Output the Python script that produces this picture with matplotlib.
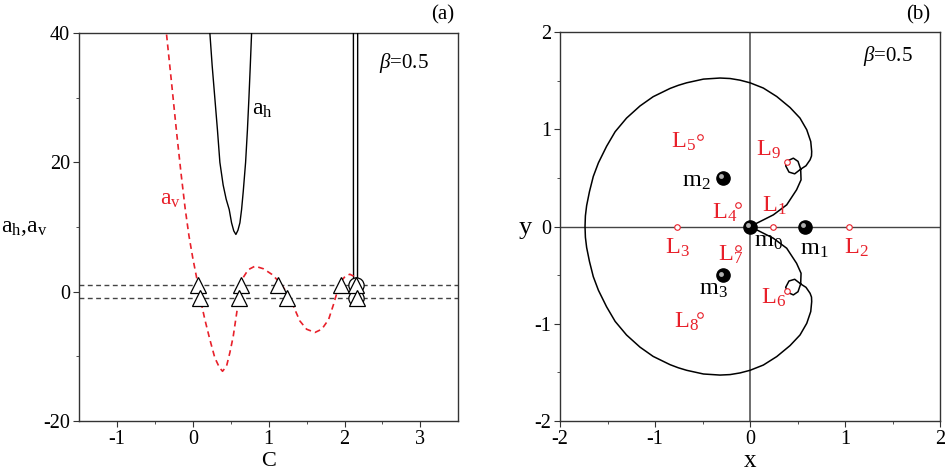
import numpy as np
import matplotlib.pyplot as plt
from matplotlib.transforms import offset_copy

plt.rcParams['font.family'] = ['Liberation Serif', 'DejaVu Serif']
plt.rcParams['mathtext.fontset'] = 'custom'
plt.rcParams['mathtext.rm'] = 'Liberation Serif'
plt.rcParams['mathtext.it'] = 'Liberation Serif:italic'
plt.rcParams['axes.unicode_minus'] = False

# ---- panel (a) data ----
ah_C = [0.215, 0.225, 0.255, 0.29, 0.325, 0.357, 0.40, 0.44, 0.48, 0.511, 0.54,
        0.568, 0.595, 0.621, 0.643, 0.665, 0.696, 0.72, 0.74, 0.758, 0.775, 0.78]
ah_y = [44, 40, 35, 30, 25, 20, 16.5, 14.3, 12.7, 10.65, 9.4,
        8.85, 9.5, 10.65, 12.7, 15.5, 20, 25, 30, 35, 40, 44]

ah2_C = [2.117, 2.117, 2.119, 2.13, 2.145, 2.16, 2.171, 2.173, 2.173]
ah2_y = [44, 10, 2, 0.5, 0.0, 0.5, 2, 10, 44]

av_C = [-0.36, -0.348, -0.28, -0.215, -0.155, -0.10, -0.05, 0.0, 0.05, 0.115,
        0.159, 0.225, 0.29, 0.35, 0.392, 0.445, 0.489, 0.533, 0.586, 0.62,
        0.665, 0.73, 0.82, 0.93, 1.04, 1.15, 1.24, 1.325, 1.41, 1.50, 1.61,
        1.70, 1.79, 1.855, 1.90, 1.94, 2.01, 2.07, 2.12, 2.14]
av_y = [41.3, 40, 32.3, 24.8, 18.3, 12.8, 8.6, 5.2, 2.2, -1.96,
        -4.3, -7.4, -10.2, -11.7, -12.3, -11.5, -9.4, -6.9, -2.7, -0.15,
        2.2, 3.4, 3.95, 3.55, 2.7, 1.4, -0.15, -2.2, -4.5, -5.8, -6.3,
        -5.8, -4.3, -1.96, -0.15, 1.4, 2.4, 2.7, 2.4, 1.6]

tri_up_C = [0.066, 0.64, 1.12, 1.95, 2.15]
tri_dn_C = [0.092, 0.61, 1.24, 2.16]
circ_C = [2.15, 2.15]
circ_y = [1, -1]
band = [1, -1]

# ---- panel (b) data (upper half, from m0 out to the left edge) ----
zvc_x = [0.0, 0.105, 0.245, 0.386, 0.49, 0.537, 0.533, 0.505, 0.456, 0.405, 0.375,
         0.41, 0.47, 0.533, 0.589, 0.632, 0.647, 0.649, 0.639, 0.597, 0.526,
         0.421, 0.281, 0.140, 0.0, -0.105, -0.21, -0.316, -0.49, -0.667, -0.755,
         -0.842, -1.02, -1.158, -1.30, -1.42, -1.51, -1.596, -1.65, -1.69, -1.72,
         -1.733, -1.737]
zvc_y = [0.0, 0.051, 0.12, 0.223, 0.378, 0.48, 0.59, 0.67, 0.703, 0.68, 0.625,
         0.56, 0.542, 0.59, 0.625, 0.686, 0.725, 0.772, 0.874, 0.995, 1.115,
         1.224, 1.337, 1.424, 1.478, 1.505, 1.522, 1.527, 1.516, 1.478, 1.452,
         1.42, 1.335, 1.24, 1.115, 0.975, 0.825, 0.655, 0.515, 0.36, 0.215,
         0.11, 0.0]

mass_x = [0.0, 0.577, -0.289, -0.289]
mass_y = [0.0, 0.0, 0.5, -0.5]
mass_lbl = ['m$_0$', 'm$_1$', 'm$_2$', 'm$_3$']
mass_lx = [0.19, 0.68, -0.56, -0.39]
mass_ly = [-0.15, -0.24, 0.46, -0.65]

L_x = [0.246, 1.046, -0.768, -0.13, -0.526, 0.39, -0.13, -0.526, 0.39]
L_y = [0.0, 0.0, 0.0, 0.223, 0.916, -0.662, -0.216, -0.906, 0.662]
L_lx = [0.26, 1.12, -0.77, -0.27, -0.70, 0.245, -0.21, -0.667, 0.19]
L_ly = [0.21, -0.22, -0.22, 0.14, 0.875, -0.737, -0.29, -0.978, 0.79]

fig = plt.figure(figsize=(9.46, 4.71), dpi=100)
ax1 = fig.add_axes([0.0835, 0.106, 0.401, 0.824])
ax2 = fig.add_axes([0.592, 0.106, 0.4017, 0.826])

red = '#e8202a'
spine_c = '#333333'

for ax in (ax1, ax2):
    for s in ax.spines.values():
        s.set_color(spine_c)
        s.set_linewidth(1.0)
    ax.tick_params(which='both', direction='out', top=False, right=False,
                   labelsize=14.5, colors=spine_c, labelcolor='black')
    ax.tick_params(which='major', length=4, pad=2.5)
    ax.tick_params(which='minor', length=2.5)

# panel (a)
ax1.set_xlim(-1.5, 3.5)
ax1.set_ylim(-20, 40)
ax1.set_xticks([-1, 0, 1, 2, 3])
ax1.set_xticks([-0.5, 0.5, 1.5, 2.5], minor=True)
ax1.set_yticks([-20, 0, 20, 40])
ax1.set_yticks([-10, 10, 30], minor=True)

for b in band:
    ax1.axhline(b, color='#444444', lw=1.0, ls=(0, (3.5, 2.5)), zorder=2)
ax1.plot(ah_C, ah_y, color='black', lw=1.0, zorder=3)
ax1.plot(ah2_C, ah2_y, color='black', lw=1.0, zorder=3)
ax1.plot(av_C, av_y, color=red, lw=1.2, ls=(0, (3.5, 2.5)), zorder=3)
ax1.plot(circ_C, circ_y, 'o', ms=11, mfc='white', mec='black', mew=0.9, zorder=4)
ax1.plot(tri_up_C, [band[0]] * len(tri_up_C), '^', ms=11, mfc='white', mec='black',
         mew=0.9, zorder=5)
ax1.plot(tri_dn_C, [band[1]] * len(tri_dn_C), '^', ms=11, mfc='white', mec='black',
         mew=0.9, zorder=5)

ax1.text(0.92, 28.2, 'a$_\\mathrm{h}$', fontsize=17, ha='center', va='center')
ax1.text(-0.30, 14.3, 'a$_\\mathrm{v}$', fontsize=17, ha='center', va='center', color=red)
ax1.text(2.78, 35.4, '$\\mathit{\\beta}$=0.5', fontsize=15, ha='center', va='center')

fig.text(0.026, 0.516, 'a$_\\mathrm{h}$,a$_\\mathrm{v}$', fontsize=17, ha='center', va='center')
fig.text(269 / 946, 1 - 461 / 471, 'C', fontsize=16, ha='center', va='center')
fig.text(443 / 946, 1 - 15 / 471, '(a)', fontsize=15, ha='center', va='center')

# panel (b)
ax2.set_xlim(-2, 2)
ax2.set_ylim(-2, 2)
ax2.set_xticks([-2, -1, 0, 1, 2])
ax2.set_xticks([-1.5, -0.5, 0.5, 1.5], minor=True)
ax2.set_yticks([-2, -1, 0, 1, 2])
ax2.set_yticks([-1.5, -0.5, 0.5, 1.5], minor=True)

ax2.axhline(0, color='#444444', lw=1.0, zorder=1)
ax2.axvline(0, color='#555555', lw=1.2, zorder=1)

full_x = zvc_x + zvc_x[::-1]
full_y = zvc_y + [-v for v in zvc_y[::-1]]
ax2.plot(full_x, full_y, color='black', lw=1.1, zorder=2, solid_joinstyle='round')

ax2.plot(L_x, L_y, 'o', ms=4, mfc='white', mec=red, mew=0.8, zorder=3)
for i in range(len(L_x)):
    ax2.text(L_lx[i], L_ly[i], 'L$_{%d}$' % (i + 1), fontsize=17.5, color=red,
             ha='center', va='center', zorder=6)

ax2.plot(mass_x, mass_y, 'o', ms=9.5, color='black', zorder=4)
hl = offset_copy(ax2.transData, fig=fig, x=-1.2, y=1.2, units='points')
ax2.plot(mass_x, mass_y, 'o', ms=3.5, color='#b0b0b0', mec='none', transform=hl, zorder=5)
for i in range(len(mass_x)):
    ax2.text(mass_lx[i], mass_ly[i], mass_lbl[i], fontsize=17.5, color='black',
             ha='center', va='center', zorder=6)

ax2.text(1.456, 1.75, '$\\mathit{\\beta}$=0.5', fontsize=15, ha='center', va='center')
fig.text(525 / 946, 1 - 228 / 471, 'y', fontsize=19, ha='center', va='center')
fig.text(750 / 946, 1 - 461 / 471, 'x', fontsize=18, ha='center', va='center')
fig.text(918 / 946, 1 - 15 / 471, '(b)', fontsize=15, ha='center', va='center')

fig.savefig('out.png', dpi=100)
